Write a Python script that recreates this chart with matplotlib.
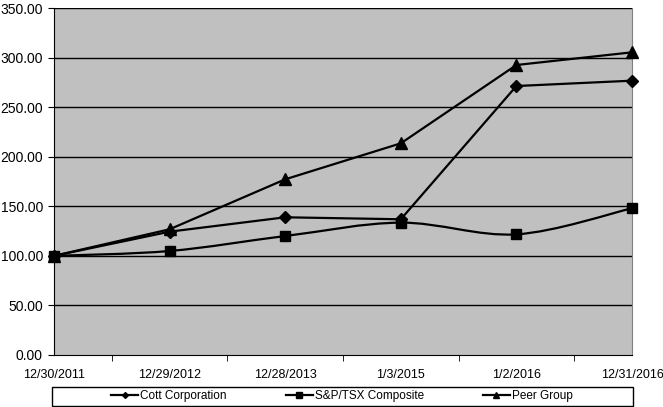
import numpy as np
import matplotlib.pyplot as plt
from matplotlib.path import Path
from matplotlib.patches import PathPatch, Rectangle
from matplotlib.lines import Line2D

plt.rcParams['font.family'] = ['Liberation Sans', 'DejaVu Sans']

dates = ['12/30/2011', '12/29/2012', '12/28/2013', '1/3/2015', '1/2/2016', '12/31/2016']
cott = [100.0, 124.4, 138.9, 136.9, 271.3, 276.7]
sptsx = [100.0, 104.9, 120.0, 133.5, 121.7, 148.0]
peer = [100.0, 126.8, 177.2, 213.5, 292.5, 305.3]

x = np.arange(len(dates))

fig = plt.figure(figsize=(6.63, 4.07), dpi=100)
ax = fig.add_axes([54 / 663, 52 / 407, 578 / 663, 347 / 407])
ax.set_facecolor('#c0c0c0')

# horizontal gridlines
yt = np.arange(0, 351, 50)
for v in yt[1:]:
    ax.axhline(v, color='black', lw=1.0, zorder=1)

# Cott and peer: straight lines
ax.plot(x, cott, color='black', lw=1.6, marker='D', ms=6.5, zorder=3, clip_on=False)
ax.plot(x, peer, color='black', lw=1.6, marker='^', ms=8, zorder=3, clip_on=False)

# S&P/TSX: excel-style smoothed line (bezier through the points)
pts = np.column_stack([x, sptsx]).astype(float)
n = len(pts)
verts = [pts[0]]
codes = [Path.MOVETO]
for i in range(n - 1):
    p0 = pts[max(i - 1, 0)]
    p1 = pts[i]
    p2 = pts[i + 1]
    p3 = pts[min(i + 2, n - 1)]
    c1 = p1 + (p2 - p0) / 6.0
    c2 = p2 - (p3 - p1) / 6.0
    verts += [c1, c2, p2]
    codes += [Path.CURVE4] * 3
ax.add_patch(PathPatch(Path(verts, codes), fill=False, ec='black', lw=1.6, zorder=3))
ax.plot(x, sptsx, ls='none', color='black', marker='s', ms=6.5, zorder=4, clip_on=False)

ax.set_xlim(0, 5)
ax.set_ylim(0, 350)
ax.set_yticks(yt)
ax.set_yticklabels(['%.2f' % v for v in yt], fontsize=10)
ax.set_xticks(x)
ax.set_xticklabels(dates, fontsize=9)
ax.tick_params(axis='x', length=0, pad=10)
ax.set_xticks(np.arange(0, 5.01, 0.5), minor=True)
ax.tick_params(axis='x', which='minor', length=4, direction='out')
ax.tick_params(axis='y', length=4, direction='out', pad=4)

ax.spines['top'].set_visible(False)
ax.spines['right'].set_color('#808080')
ax.spines['left'].set_color('black')
ax.spines['bottom'].set_color('black')

# legend box across the bottom, entries centred inside it
fig.patches.append(Rectangle((52 / 663, 1 / 407), 581 / 663, 19 / 407,
                             transform=fig.transFigure, fill=True, fc='white',
                             ec='black', lw=1.0))
handles = [
    Line2D([], [], color='black', lw=1.6, marker='D', ms=3),
    Line2D([], [], color='black', lw=1.6, marker='s', ms=4),
    Line2D([], [], color='black', lw=1.6, marker='^', ms=4),
]
fig.legend(handles, ['Cott Corporation', 'S&P/TSX Composite', 'Peer Group'],
           loc='center', bbox_to_anchor=(342 / 663, 10.5 / 407),
           ncol=3, fontsize=8.5, frameon=False, handlelength=2.3,
           handletextpad=0.15, columnspacing=5.0, borderpad=0, borderaxespad=0)

fig.savefig('out.png', dpi=100)
